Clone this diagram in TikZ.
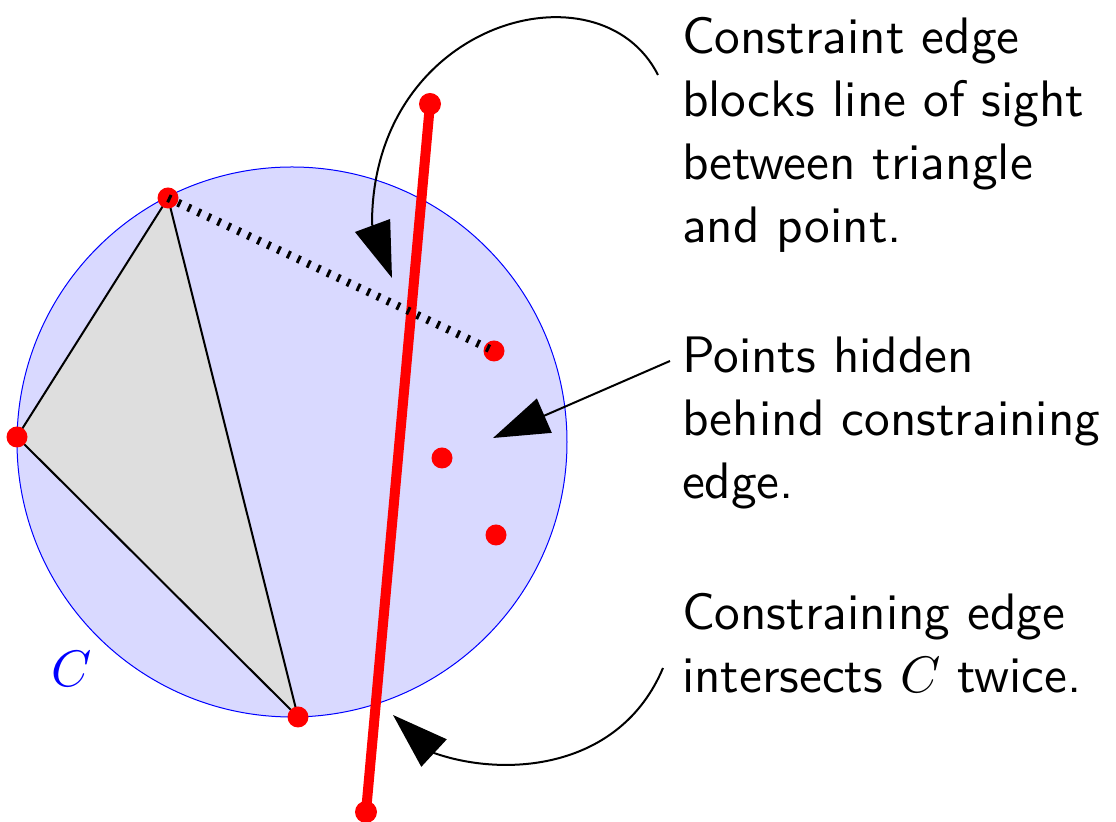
\documentclass[tikz,border=0pt]{standalone}
\usetikzlibrary{arrows.meta}
\begin{document}
\begin{tikzpicture}[x=0.5pt,y=-0.5pt,
  reddot/.style={circle,fill=red,inner sep=0pt,minimum size=10.5pt},
  note/.style={anchor=north west,inner sep=0pt,align=left,scale=2.565,font=\fontsize{10}{12.28}\selectfont\sffamily},
  callout/.style={draw=black,line width=1pt,-{Triangle[length=28pt,width=18.5pt]}},
  tri/.style={draw=black,line width=1pt,fill=black!13,line join=round},
  constraint/.style={draw=red,line width=5pt},
  sight/.style={draw=black,line width=4pt,dash pattern=on 1.5pt off 4pt},
]
\useasboundingbox (0,0) rectangle (1116,822);
% circumcircle
\fill[blue!15] (292,442) circle[radius=275];
\draw[blue,line width=0.5pt] (292,442) circle[radius=275];
% points
\coordinate (A) at (168,198);
\coordinate (B) at (17,437);
\coordinate (D) at (298,717);
\coordinate (P1) at (494,351);
\coordinate (P2) at (442,458);
\coordinate (P3) at (496,535);
\coordinate (E1) at (430,104);
\coordinate (E2) at (366,812);
% triangle
\draw[tri] (A) -- (B) -- (D) -- cycle;
% constraining edge
\draw[constraint] (E1) -- (E2);
% dots
\node[reddot] (nA) at (A) {};
\node[reddot] (nB) at (B) {};
\node[reddot] (nD) at (D) {};
\node[reddot] (nP1) at (P1) {};
\node[reddot] (nP2) at (P2) {};
\node[reddot] (nP3) at (P3) {};
\node[reddot,minimum size=11pt] (nE1) at (E1) {};
\node[reddot,minimum size=11pt] (nE2) at (E2) {};
% line of sight
\draw[sight] (nA.center) -- (nP1.center);
% label C
\node[text=blue,inner sep=0pt,scale=2.565,font=\fontsize{10}{12}\selectfont] (clabel) at (72,669) {$C$};
% notes
\node[note] (t1) at (681,16) {Constraint edge\\blocks line of sight\\between triangle\\and point.};
\node[note] (t2) at (681,336) {Points hidden\\behind constraining\\edge.};
\node[note] (t3) at (681,592) {Constraining edge\\intersects $C$ twice.};
% callouts
\coordinate (s1) at (658,75);
\coordinate (b1) at (372,224);
\coordinate (h1) at (392,278);
\draw[callout] (s1) .. controls (600,-40) and (372,20) .. (b1) -- (h1);
\coordinate (s2) at (670,361);
\coordinate (h2) at (493,438);
\draw[callout] (s2) -- (h2);
\coordinate (s3) at (663,668);
\coordinate (b3) at (434,753);
\coordinate (h3) at (393,715);
\draw[callout] (s3) .. controls (620,770) and (505,778) .. (b3) -- (h3);
\end{tikzpicture}
\end{document}
